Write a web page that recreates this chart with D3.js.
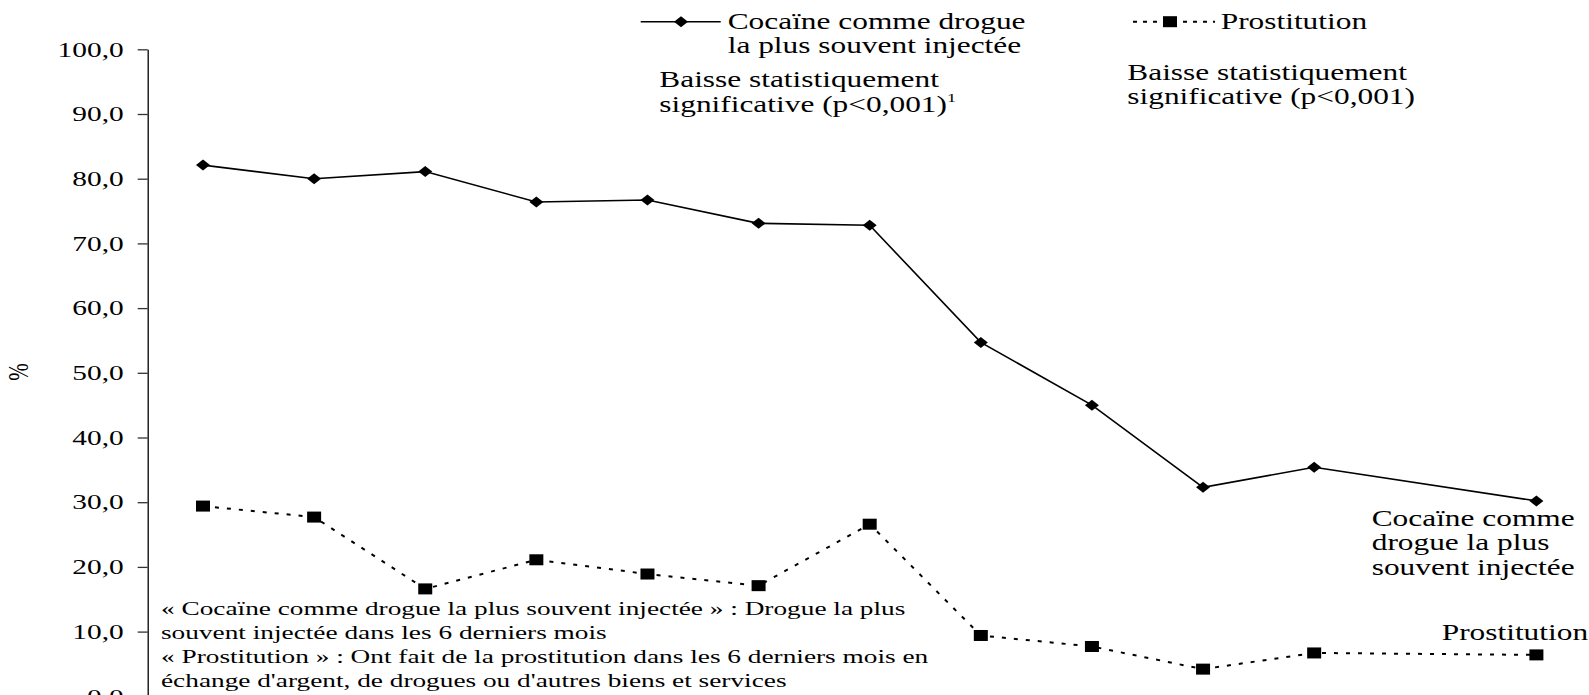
<!DOCTYPE html>
<html>
<head>
<meta charset="utf-8">
<script src="https://cdn.jsdelivr.net/npm/d3@7"></script>
<style>
  html, body { margin: 0; padding: 0; background: #fff; }
  svg { display: block; overflow: hidden; }
  text { font-family: "Liberation Serif", "Times New Roman", serif; fill: #000; }
</style>
</head>
<body>
<svg id="chart" width="1589" height="695"></svg>
<script>
// ---- data ----
const categories = ["1", "2", "3", "4", "5", "6", "7", "8", "9", "10", "11", "12", "13"];
const cocaine      = [82.1, 80.0, 81.1, 76.4, 76.7, 73.1, 72.8, 54.7, 45.0, 32.3, 35.4, null, 30.2];
const prostitution = [29.4, 27.7, 16.6, 21.1, 18.9, 17.1, 26.6, 9.4, 7.7, 4.2, 6.7, null, 6.4];
const yTicks = [0, 10, 20, 30, 40, 50, 60, 70, 80, 90, 100];
const legendCocaine = ["Cocaïne comme drogue", "la plus souvent injectée"];
const legendProstitution = ["Prostitution"];
const noteCocaine = ["Baisse statistiquement", "significative (p<0,001)"];
const noteProstitution = ["Baisse statistiquement", "significative (p<0,001)"];
const endLabelCocaine = ["Cocaïne comme", "drogue la plus", "souvent injectée"];
const endLabelProstitution = ["Prostitution"];
const footnote = [
  "« Cocaïne comme drogue la plus souvent injectée » : Drogue la plus",
  "souvent injectée dans les 6 derniers mois",
  "« Prostitution » : Ont fait de la prostitution dans les 6 derniers mois en",
  "échange d'argent, de drogues ou d'autres biens et services"
];
const yTitle = "%";

// ---- layout ----
const SX = 1.4; // horizontal stretch of the original picture
const svg = d3.select("#chart");

const x = d3.scalePoint().domain(categories).range([203, 1536.4]);
const y = d3.scaleLinear().domain([0, 100]).range([696.3, 49.3]);
const fmt = v => d3.format(".1f")(v).replace(".", ",");

// axis
const axis = svg.append("g")
  .attr("transform", "translate(147.7,0)")
  .call(d3.axisLeft(y).tickValues(yTicks).tickSize(10).tickSizeOuter(0).tickPadding(14).tickFormat(fmt));
axis.select(".domain").attr("stroke", "#000").attr("stroke-width", 1.3);
axis.selectAll(".tick line").attr("stroke", "#333").attr("stroke-width", 1.3);
axis.selectAll(".tick text")
  .attr("x", 0)
  .attr("transform", `translate(-24,0) scale(${SX},1)`)
  .attr("text-anchor", "end")
  .style("font-family", "'Liberation Serif', 'Times New Roman', serif")
  .style("font-size", "21px")
  .attr("fill", "#000");

// y title
svg.append("text")
  .attr("transform", `translate(28,372) scale(${SX},1) rotate(-90)`)
  .attr("text-anchor", "middle")
  .style("font-size", "21px")
  .text(yTitle);

// series
function pts(arr) {
  return categories.map((c, i) => ({ c, v: arr[i] })).filter(d => d.v != null);
}
const line = d3.line().x(d => x(d.c)).y(d => y(d.v));
const diamond = (cx, cy) => `M${cx - 7},${cy}L${cx},${cy - 5.5}L${cx + 7},${cy}L${cx},${cy + 5.5}Z`;

const cData = pts(cocaine);
const pData = pts(prostitution);

svg.append("path").datum(cData)
  .attr("d", line).attr("fill", "none").attr("stroke", "#000").attr("stroke-width", 1.6);
svg.append("path").datum(pData)
  .attr("d", line).attr("fill", "none").attr("stroke", "#000").attr("stroke-width", 2)
  .attr("stroke-dasharray", "4,8");

svg.append("g").selectAll("path").data(cData).join("path")
  .attr("d", d => diamond(x(d.c), y(d.v))).attr("fill", "#000");
svg.append("g").selectAll("rect").data(pData).join("rect")
  .attr("x", d => x(d.c) - 7).attr("y", d => y(d.v) - 5.5)
  .attr("width", 14).attr("height", 11).attr("fill", "#000");

// text helper
function block(xp, yp, lines, size, lh) {
  const t = svg.append("text")
    .attr("transform", `translate(${xp},${yp}) scale(${SX},1)`)
    .style("font-size", size + "px");
  lines.forEach((l, i) => t.append("tspan").attr("x", 0).attr("y", i * lh).text(l));
  return t;
}

// legend
svg.append("line").attr("x1", 640.7).attr("x2", 720.7).attr("y1", 21.7).attr("y2", 21.7)
  .attr("stroke", "#000").attr("stroke-width", 1.6);
svg.append("path").attr("d", diamond(681, 21.7)).attr("fill", "#000");
block(727.7, 29.3, legendCocaine, 22.4, 24);

svg.append("line").attr("x1", 1133).attr("x2", 1215).attr("y1", 21.7).attr("y2", 21.7)
  .attr("stroke", "#000").attr("stroke-width", 2).attr("stroke-dasharray", "4,6");
svg.append("rect").attr("x", 1163).attr("y", 16.2).attr("width", 14).attr("height", 11).attr("fill", "#000");
block(1220.7, 29.3, legendProstitution, 22.4, 24);

// notes
const n1 = block(659.3, 87.3, noteCocaine, 22.4, 24.4);
n1.select("tspan:last-child").append("tspan").attr("dy", -10).style("font-size", "13px").text("1");
block(1127.3, 80, noteProstitution, 22.4, 24);

// end labels
block(1371.7, 526, endLabelCocaine, 22.4, 24.5);
block(1441.7, 640, endLabelProstitution, 22.4, 24);

// footnote
block(161, 615, footnote, 19.5, 24.1);
</script>
</body>
</html>
